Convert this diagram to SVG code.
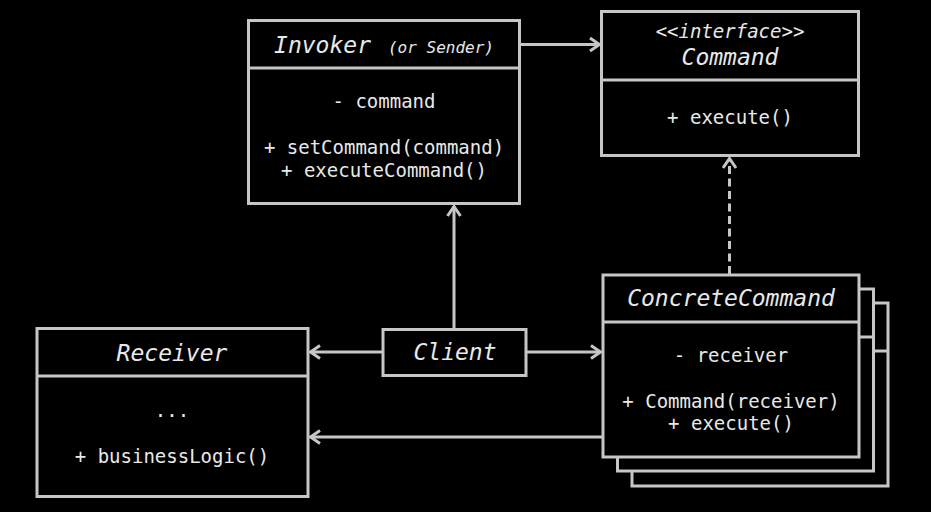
<svg xmlns="http://www.w3.org/2000/svg" width="931" height="512" viewBox="0 0 931 512">
<style>
.box{fill:#000;stroke:#c6c6c6;stroke-width:3}
.div{stroke:#c6c6c6;stroke-width:3}
.t{font-family:"DejaVu Sans Mono","Liberation Mono",monospace;fill:#e8e8e8;text-anchor:middle}
.title{font-size:23px;font-style:italic}
.small{font-size:16px;font-style:italic}
.st{font-size:19px;font-style:italic}
.body{font-size:19px}
.edge{fill:none;stroke:#c6c6c6;stroke-width:3}
.dash{stroke-dasharray:8 4.5}
</style>
<defs>
<marker id="arr" viewBox="0 0 12 16" refX="11" refY="8" markerWidth="12" markerHeight="16" markerUnits="userSpaceOnUse" orient="auto">
<path d="M1,1.5 L10.5,8 L1,14.5" fill="none" stroke="#c6c6c6" stroke-width="3" stroke-dasharray="none"/>
</marker>
</defs>
<rect width="931" height="512" fill="#000"/>

<g id="connectors">
<line class="edge" x1="520" y1="44.5" x2="600" y2="44.5" marker-end="url(#arr)"/>
<line class="edge" x1="454" y1="329" x2="454" y2="206" marker-end="url(#arr)"/>
<line class="edge" x1="382" y1="352" x2="310" y2="352" marker-end="url(#arr)"/>
<line class="edge" x1="527" y1="352" x2="601" y2="352" marker-end="url(#arr)"/>
<line class="edge" x1="602" y1="437" x2="310" y2="437" marker-end="url(#arr)"/>
<line class="edge dash" x1="729.5" y1="274" x2="729.5" y2="158" marker-end="url(#arr)"/>
</g>

<g id="invoker">
<rect class="box" x="248.5" y="20.5" width="271" height="183"/>
<line class="div" x1="248.5" y1="68" x2="519.5" y2="68"/>
<text class="t" x="384" y="53"><tspan class="title">Invoker</tspan><tspan class="small" dx="17">(or Sender)</tspan></text>
<text class="t body" x="384" y="108">- command</text>
<text class="t body" x="384" y="154">+ setCommand(command)</text>
<text class="t body" x="384" y="177">+ executeCommand()</text>
</g>

<g id="command">
<rect class="box" x="601.5" y="11.5" width="257" height="144"/>
<line class="div" x1="601.5" y1="80" x2="858.5" y2="80"/>
<text class="t st" x="730" y="38">&lt;&lt;interface&gt;&gt;</text>
<text class="t title" x="730" y="65">Command</text>
<text class="t body" x="730" y="124">+ execute()</text>
</g>

<g id="concrete-command">
<rect class="box" x="632" y="303" width="256" height="183"/>
<line class="div" x1="632" y1="351" x2="888" y2="351"/>
<rect class="box" x="617.5" y="289" width="256" height="182"/>
<line class="div" x1="617.5" y1="337" x2="873.5" y2="337"/>
<rect class="box" x="603" y="275" width="256" height="182"/>
<line class="div" x1="603" y1="322" x2="859" y2="322"/>
<text class="t title" x="731" y="306">ConcreteCommand</text>
<text class="t body" x="731" y="362">- receiver</text>
<text class="t body" x="731" y="408">+ Command(receiver)</text>
<text class="t body" x="731" y="430">+ execute()</text>
</g>

<g id="receiver">
<rect class="box" x="37" y="328.5" width="271" height="168"/>
<line class="div" x1="37" y1="376" x2="308" y2="376"/>
<text class="t title" x="172" y="361">Receiver</text>
<text class="t body" x="172" y="417">...</text>
<text class="t body" x="172" y="463">+ businessLogic()</text>
</g>

<g id="client">
<rect class="box" x="383" y="329.5" width="143" height="46"/>
<text class="t title" x="455" y="360">Client</text>
</g>
</svg>
